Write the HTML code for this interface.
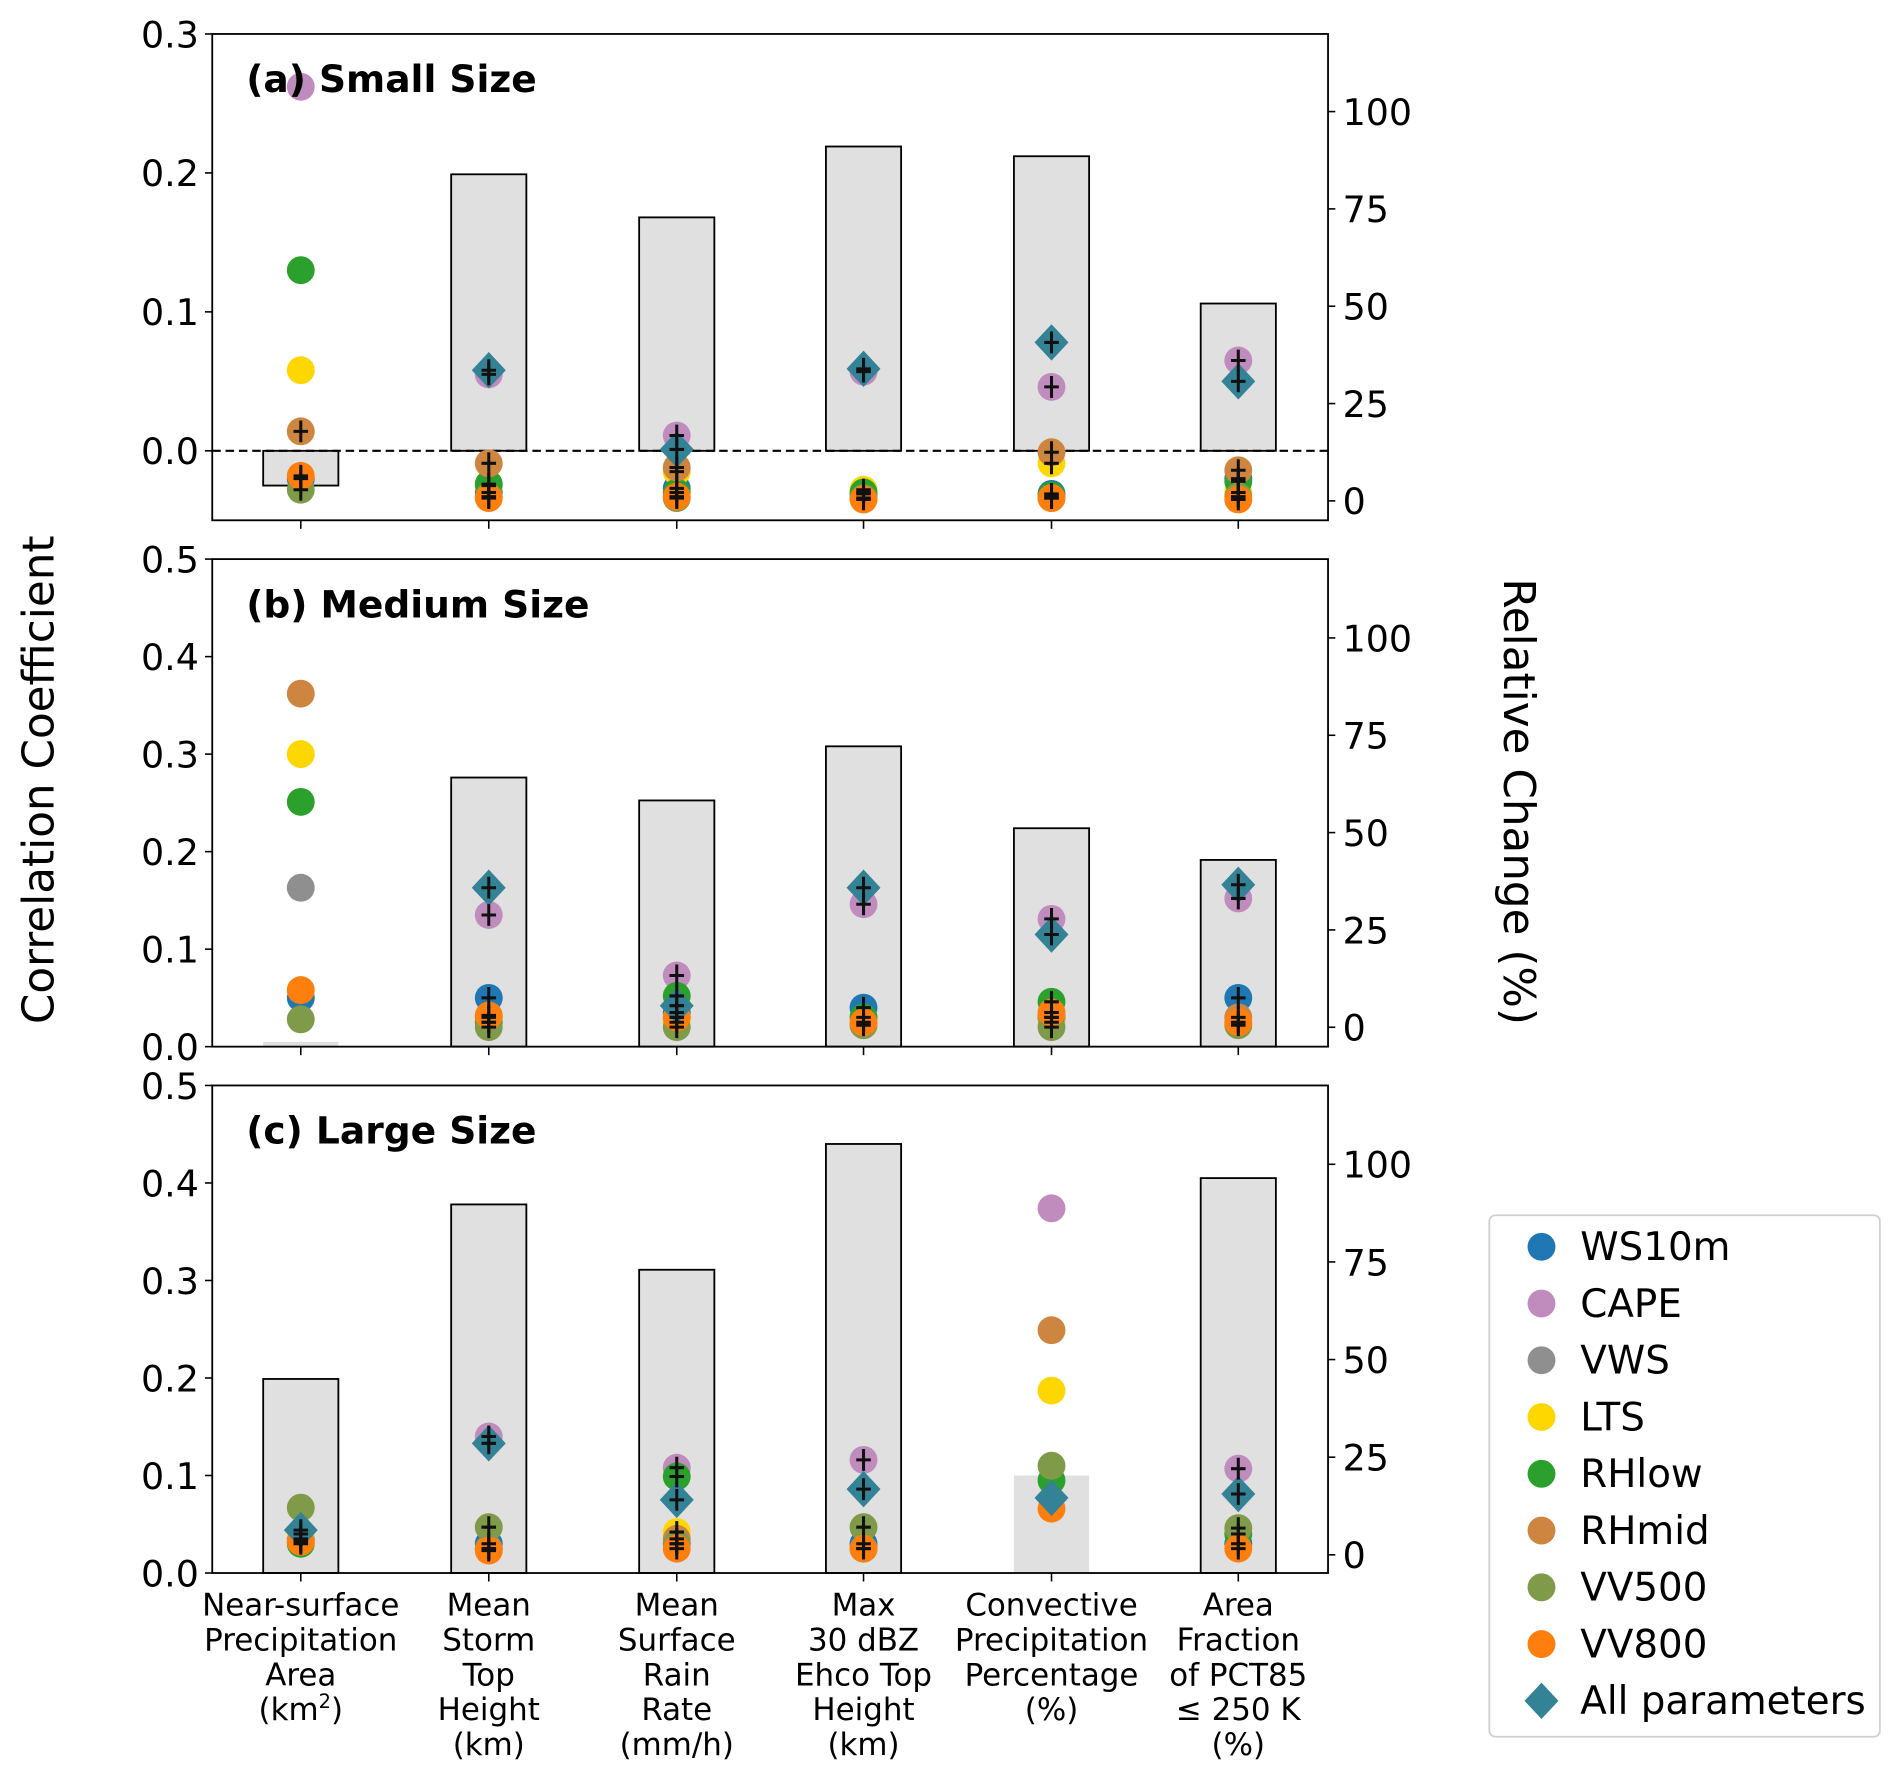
<!DOCTYPE html>
<html><head><meta charset="utf-8"><style>
html,body{margin:0;padding:0;background:#fff;}
svg{display:block;font-family:"DejaVu Sans","Liberation Sans",sans-serif;}
</style></head><body>
<svg id="chart" width="1892" height="1769" viewBox="0 0 1560 1458.6" preserveAspectRatio="none" xmlns="http://www.w3.org/2000/svg"></svg>
<script>
const categories=["Near-surface|Precipitation|Area|(km²)","Mean|Storm|Top|Height|(km)","Mean|Surface|Rain|Rate|(mm/h)","Max|30 dBZ|Ehco Top|Height|(km)","Convective|Precipitation|Percentage|(%)","Area|Fraction|of PCT85|≤ 250 K|(%)"];
const seriesNames=["WS10m","CAPE","VWS","LTS","RHlow","RHmid","VV500","VV800","All parameters"];
const seriesColors=["#1f77b4","#c08cbe","#8f8f8f","#ffd700","#2ca02c","#cd853f","#7f9a48","#ff7f0e","#338296"];
const barsA=[-0.025,0.199,0.168,0.219,0.212,0.106];
const barsB=[0.005,0.276,0.2525,0.308,0.224,0.1915];
const barsC=[0.199,0.378,0.311,0.440,0.100,0.405];
const barEdgeB=[false,true,true,true,true,true];
const barEdgeC=[true,true,true,true,false,true];
// panel a values per series across categories
const aWS=[-0.02,-0.03,-0.027,-0.031,-0.031,-0.02];
const aCAPE=[0.262,0.055,0.011,0.057,0.046,0.065];
const aVWS=[null,null,null,null,null,null];
const aLTS=[0.058,-0.025,-0.015,-0.028,-0.009,-0.03];
const aRHlow=[0.130,-0.024,-0.03,-0.03,-0.032,-0.022];
const aRHmid=[0.014,-0.009,-0.012,null,-0.001,-0.014];
const aVV500=[-0.028,-0.033,-0.034,-0.034,-0.034,-0.033];
const aVV800=[-0.018,-0.034,-0.033,-0.035,-0.034,-0.035];
const aAll=[null,0.058,0.001,0.059,0.078,0.050];
// panel b
const bWS=[0.05,0.05,0.035,0.04,0.03,0.05];
const bCAPE=[null,0.135,0.073,0.146,0.131,0.152];
const bVWS=[0.163,null,null,null,null,null];
const bLTS=[0.300,0.025,0.025,null,0.025,null];
const bRHlow=[0.251,0.025,0.052,0.03,0.046,null];
const bRHmid=[0.362,0.03,0.03,null,0.03,0.03];
const bVV500=[0.028,0.02,0.02,0.022,0.02,0.022];
const bVV800=[0.058,0.032,0.03,0.025,0.035,0.025];
const bAll=[null,0.163,0.042,0.163,0.115,0.166];
// panel c
const cWS=[0.035,0.03,0.03,0.03,null,0.03];
const cCAPE=[null,0.14,0.108,0.116,0.374,0.107];
const cVWS=[null,null,null,null,null,null];
const cLTS=[0.04,null,0.042,null,0.187,null];
const cRHlow=[0.03,0.025,0.099,0.025,0.095,0.04];
const cRHmid=[0.033,0.025,0.035,null,0.249,null];
const cVV500=[0.067,0.047,0.03,0.047,0.11,0.046];
const cVV800=[0.032,0.023,0.025,0.025,0.066,0.025];
const cAll=[0.044,0.133,0.075,0.086,0.077,0.081];
const yTicksA=["0.0","0.1","0.2","0.3"];
const yTicksBC=["0.0","0.1","0.2","0.3","0.4","0.5"];
const rTicks=["0","25","50","75","100"];

const NS="http://www.w3.org/2000/svg";
const svg=document.getElementById('chart');
function mk(tag,attrs,parent){const e=document.createElementNS(NS,tag);for(const k in attrs)e.setAttribute(k,attrs[k]);(parent||svg).appendChild(e);return e;}
const X0=175,X1=1095;
const catX=[248,403,558,712,867,1021];
function xPos(i){return catX[i];}

const panels=[
 {id:'a',title:'(a) Small Size',top:28,bot:429,ymin:-0.05,ymax:0.3,ticks:yTicksA,bars:barsA,edge:[true,true,true,true,true,true],r0:413,r100:92,
  vals:[aWS,aCAPE,aVWS,aLTS,aRHlow,aRHmid,aVV500,aVV800,aAll],dashed:true,noPlus:[[0,1],[0,3],[0,4]]},
 {id:'b',title:'(b) Medium Size',top:461,bot:863,ymin:0,ymax:0.5,ticks:yTicksBC,bars:barsB,edge:barEdgeB,r0:847,r100:526,
  vals:[bWS,bCAPE,bVWS,bLTS,bRHlow,bRHmid,bVV500,bVV800,bAll],dashed:false,noPlus:[[0,0],[0,1],[0,2],[0,3],[0,4],[0,5],[0,6],[0,7]]},
 {id:'c',title:'(c) Large Size',top:895,bot:1297,ymin:0,ymax:0.5,ticks:yTicksBC,bars:barsC,edge:barEdgeC,r0:1282,r100:960,
  vals:[cWS,cCAPE,cVWS,cLTS,cRHlow,cRHmid,cVV500,cVV800,cAll],dashed:false,noPlus:[[4,0],[4,1],[4,3],[4,4],[4,5],[4,6],[4,7],[4,8],[0,6]]}
];

panels.forEach(p=>{
  const g=mk('g',{});
  
  
  const y=v=>p.bot-(v-p.ymin)/(p.ymax-p.ymin)*(p.bot-p.top);
  p.bars.forEach((v,i)=>{
    const y0=y(0),yv=y(v);
    const r=mk('rect',{x:xPos(i)-31,y:Math.min(y0,yv),width:62,height:Math.abs(yv-y0),fill:'#e0e0e0',stroke:p.edge[i]?'#000':'none','stroke-width':1.5},g);
    
    
  });
  if(p.dashed){const l=mk('line',{x1:X0,x2:X1,y1:y(0),y2:y(0),stroke:'#000','stroke-width':1.8,'stroke-dasharray':'7,4'},g);
    }
  p.vals.forEach((arr,s)=>{
    arr.forEach((v,i)=>{
      if(v===null)return;
      const cx=xPos(i),cy=y(v);
      let m;
      if(s===8){m=mk('polygon',{points:`${cx},${cy-15} ${cx+14},${cy} ${cx},${cy+15} ${cx-14},${cy}`,fill:seriesColors[s]},g);}
      else{m=mk('ellipse',{cx:cx,cy:cy,rx:11.5,ry:11.5,fill:seriesColors[s]},g);}
      
      
    });
  });
  p.vals.forEach((arr,s)=>{
    arr.forEach((v,i)=>{
      if(v===null)return;
      if(p.noPlus.some(q=>q[0]===i&&q[1]===s))return;
      const cx=xPos(i),cy=y(v);
      mk('path',{d:`M${cx-6},${cy}H${cx+6}M${cx},${cy-9}V${cy+9}`,stroke:'#111','stroke-width':2.5,fill:'none'},g);
    });
  });
  const f=mk('rect',{x:X0,y:p.top,width:X1-X0,height:p.bot-p.top,fill:'none',stroke:'#000','stroke-width':1.5},g);
  
  p.ticks.forEach(t=>{const v=parseFloat(t),yy=y(v);
    mk('line',{x1:X0-6,x2:X0,y1:yy,y2:yy,stroke:'#000','stroke-width':1.3},g);
    const tx=mk('text',{x:X0-11,y:yy+11,'text-anchor':'end','font-size':30},g);tx.textContent=t;
    });
  rTicks.forEach(t=>{const yy=p.r0-(parseFloat(t)/100)*(p.r0-p.r100);
    mk('line',{x1:X1,x2:X1+6,y1:yy,y2:yy,stroke:'#000','stroke-width':1.3},g);
    const tx=mk('text',{x:X1+12,y:yy+11,'font-size':30},g);tx.textContent=t;
    });
  catX.forEach(cx=>mk('line',{x1:cx,x2:cx,y1:p.bot,y2:p.bot+7,stroke:'#000','stroke-width':1.3},g));
  const tt=mk('text',{x:203,y:p.top+48,'font-size':31,'font-weight':'bold'},g);tt.textContent=p.title;
  
});
categories.forEach((c,i)=>{
  const t=mk('text',{x:xPos(i),'text-anchor':'middle','font-size':25.5});
  
  
  c.split('|').forEach((ln,k)=>{const ts=mk('tspan',{x:xPos(i),y:1332+k*28.8},t);
    if(ln==='(km²)'){ts.textContent='(km';const sp=mk('tspan',{'font-size':16,dy:-10},ts);sp.textContent='2';const e=mk('tspan',{dy:10},ts);e.textContent=')';}
    else ts.textContent=ln;});
});
const yl=mk('text',{x:0,y:0,transform:'translate(44,643) rotate(-90)','text-anchor':'middle','font-size':36});
yl.textContent='Correlation Coefficient';

const rl=mk('text',{x:0,y:0,transform:'translate(1240,661) rotate(90)','text-anchor':'middle','font-size':36});
rl.textContent='Relative Change (%)';

const lg=mk('g',{});

mk('rect',{x:1228,y:1002,width:322,height:430,rx:5,fill:'#fff',stroke:'#d0d0d0','stroke-width':1.5},lg);
seriesNames.forEach((n,s)=>{
  const yy=1028+s*46.8;
  if(s===8)mk('polygon',{points:`1271,${yy-15} 1285,${yy} 1271,${yy+15} 1257,${yy}`,fill:seriesColors[s]},lg);
  else mk('circle',{cx:1271,cy:yy,r:11.5,fill:seriesColors[s]},lg);
  const t=mk('text',{x:1303,y:yy+11,'font-size':32},lg);t.textContent=n;
  
});
</script>
</body></html>
